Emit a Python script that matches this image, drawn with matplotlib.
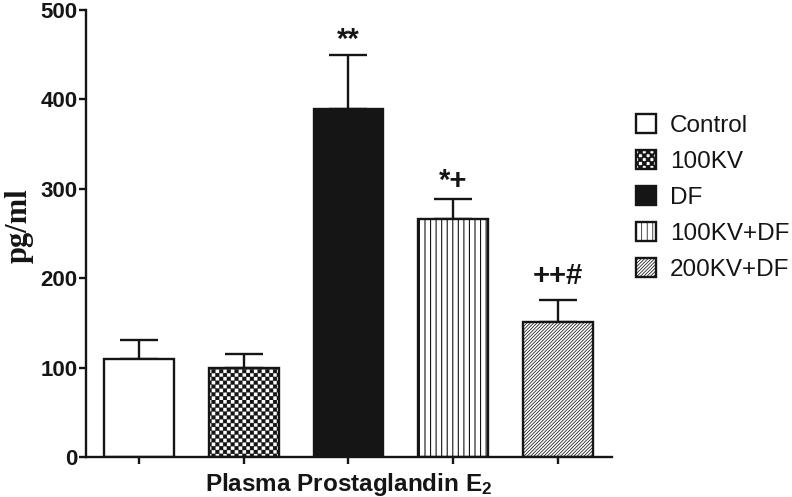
import numpy as np
import matplotlib
matplotlib.use('Agg')
import matplotlib.pyplot as plt
from matplotlib import hatch as mhatch
from matplotlib.path import Path

# Group data
groups = ['Control', '100KV', 'DF', '100KV+DF', '200KV+DF']
means = [110, 99, 389, 266, 151]
errors = [21, 16, 61, 23, 25]
marks = ['', '', '**', '*+', '++#']
mark_offsets = [0, 0, 5, 7, 11]  # points above the cap (baseline)


# checkerboard hatch: take over the '*' hatch character
class CheckerHatch(mhatch.HatchPatternBase):
    def __init__(self, hatch, density):
        self.n = 26 if '*' in hatch else 0
        self.num_vertices = (self.n * self.n // 2) * 5

    def set_vertices_and_codes(self, vertices, codes):
        s = 1.0 / self.n
        sq = np.array([[0, 0], [s, 0], [s, s], [0, s], [0, 0]])
        parts = []
        for r in range(self.n):
            for c in range(r % 2, self.n, 2):
                parts.append(sq + [c * s, r * s])
        vertices[:] = np.concatenate(parts)
        one = [Path.MOVETO, Path.LINETO, Path.LINETO, Path.LINETO, Path.CLOSEPOLY]
        codes[:] = np.tile(one, len(parts))


mhatch._hatch_types = [t for t in mhatch._hatch_types if t is not mhatch.Stars] + [CheckerHatch]

plt.rcParams['font.family'] = ['Liberation Sans', 'DejaVu Sans']
plt.rcParams['mathtext.default'] = 'regular'

fig = plt.figure(figsize=(7.92, 4.97), dpi=100)
ax = fig.add_axes([86 / 792, 40 / 497, 526 / 792, 447 / 497])

styles = [
    dict(facecolor='white', hatch=None, hlw=0.7),
    dict(facecolor='white', hatch='*', hlw=0.2),
    dict(facecolor='#151515', hatch=None, hlw=0.7),
    dict(facecolor='white', hatch='|||', hlw=0.8),
    dict(facecolor='white', hatch='//////////', hlw=0.55),
]

x = np.arange(len(groups))
ax.errorbar(x, means, yerr=[np.zeros(len(means)), errors], fmt='none',
            ecolor='#151515', elinewidth=1.7, capsize=13.7, capthick=1.7, zorder=1)

for i, g in enumerate(groups):
    st = styles[i]
    plt.rcParams['hatch.linewidth'] = st['hlw']
    b = ax.bar(x[i], means[i], width=0.664, color=st['facecolor'], edgecolor='#151515',
               linewidth=1.7, hatch=st['hatch'], label=g, zorder=2)
    for p in b:
        if hasattr(p, 'set_hatch_linewidth'):
            p.set_hatch_linewidth(st['hlw'])
    if marks[i]:
        ax.annotate(marks[i], xy=(x[i], means[i] + errors[i]), xytext=(0, mark_offsets[i]),
                    textcoords='offset points', ha='center', va='baseline',
                    fontsize=21, fontweight='bold', color='#151515')

ax.set_xlim(-0.507, 4.517)
ax.set_ylim(0, 500)
ax.set_yticks([0, 100, 200, 300, 400, 500])
ax.set_xticks(x)
ax.set_xticklabels([])
for s in ['top', 'right']:
    ax.spines[s].set_visible(False)
for s in ['left', 'bottom']:
    ax.spines[s].set_linewidth(1.7)
    ax.spines[s].set_color('#151515')
ax.tick_params(direction='out', length=5, width=1.7, color='#151515',
               labelsize=16, pad=1, labelcolor='#151515')
for lab in ax.get_yticklabels():
    lab.set_fontweight('bold')

ax.set_xlabel('Plasma Prostaglandin E$_2$', fontsize=17.5, fontweight='bold',
              color='#151515', labelpad=4)
ax.set_ylabel('pg/ml', fontsize=22, fontweight='bold', family='Liberation Serif',
              color='#151515')
ax.yaxis.set_label_coords((34 - 86) / 526, (457 - 226) / 447)

leg = ax.legend(loc='upper left', bbox_to_anchor=(636 / 792, 1 - 114 / 497),
                bbox_transform=fig.transFigure, frameon=False, fontsize=17.5,
                handlelength=0.82, handleheight=0.82, handletextpad=0.58,
                labelspacing=0.54, borderpad=0, borderaxespad=0)
for t in leg.get_texts():
    t.set_color('#151515')

fig.savefig('out.png', dpi=100)
